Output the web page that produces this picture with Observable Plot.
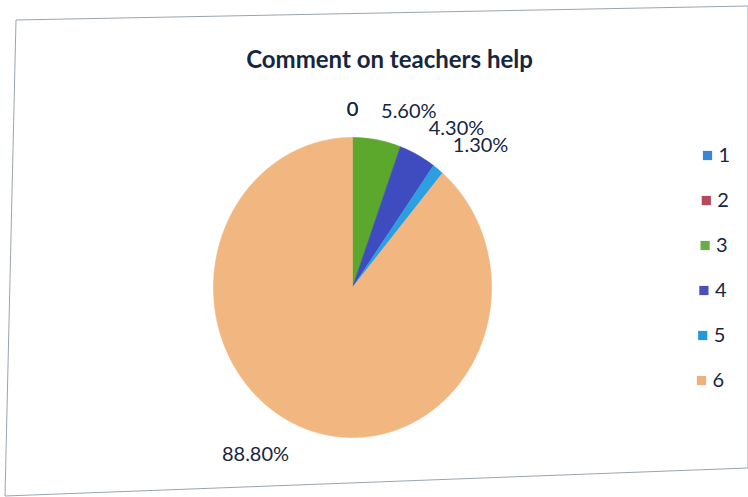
<!DOCTYPE html>
<html><head><meta charset="utf-8">
<script src="https://cdn.jsdelivr.net/npm/d3@7"></script>
<script src="https://cdn.jsdelivr.net/npm/@observablehq/plot@0.6"></script>
<style>
html,body{margin:0;padding:0;background:#fff;}
#wrap{position:relative;width:748px;height:497px;overflow:hidden;background:#fff;}
#frame{position:absolute;left:0;top:0;}
#chart{position:absolute;left:0;top:0;}
</style></head><body>
<div id="wrap">
<svg id="frame" width="748" height="497"><polygon points="16,20 748,6 748,468 5,496" fill="none" stroke="#9aa4ad" stroke-width="1"/></svg>
<div id="chart"></div>
</div>
<script>
// ---- data ----
const categories = ["1", "2", "3", "4", "5", "6"];
const values = [0, 0, 5.6, 4.3, 1.3, 88.8];
const valueLabels = ["0", "0", "5.60%", "4.30%", "1.30%", "88.80%"];
const legendColors = ["#3a86d6", "#b4485f", "#6aac4a", "#4a50b8", "#2399dd", "#efb07a"];
const sliceColors = ["#3a86d6", "#b4485f", "#5ba82d", "#3f4cbf", "#2b9fe2", "#f2b680"];
const title = "Comment on teachers help";

// ---- layout ----
const W = 748, H = 497;
const cx = 352, cy = 287, rx = 139, ry = 150;
const font = "Lato, 'Open Sans', sans-serif";
const ink = "#17263f";

const arcs = d3.pie().sort(null).value(d => d)(values);
const pt = (a, ex, ey) => ({x: cx + ex * Math.sin(a), y: cy - ey * Math.cos(a)});

const sliceMarks = [];
arcs.forEach((s, i) => {
  if (s.endAngle - s.startAngle <= 0) return;
  const n = Math.max(2, Math.ceil((s.endAngle - s.startAngle) / 0.01));
  const pts = [{x: cx, y: cy}];
  for (let k = 0; k <= n; k++) {
    const a = s.startAngle + (s.endAngle - s.startAngle) * k / n;
    pts.push(pt(a, rx, ry));
  }
  pts.push({x: cx, y: cy});
  sliceMarks.push(Plot.line(pts, {x: "x", y: "y", fill: sliceColors[i], stroke: sliceColors[i], strokeWidth: 0.6, curve: "linear"}));
});

const labelData = arcs.map((s, i) => {
  const a = (s.startAngle + s.endAngle) / 2;
  const top = Math.cos(a) >= 0;
  const gx = top ? 24 : 45, gy = top ? 22 : 20;
  const p = pt(a, rx + gx, ry + gy);
  const sn = Math.sin(a);
  return {x: p.x, y: p.y, text: valueLabels[i],
    anchor: sn > 0.1 ? "start" : sn < -0.1 ? "end" : "middle",
    line: top ? "bottom" : "top"};
});

const labelMarks = ["bottom", "top"].flatMap(la =>
  ["start", "middle", "end"].map(ta =>
    Plot.text(labelData.filter(d => d.line === la && d.anchor === ta),
      {x: "x", y: "y", text: "text", textAnchor: ta, lineAnchor: la,
       fontSize: 20, fill: ink, fontFamily: font})));

const legendData = categories.map((c, i) => ({x: 707 - i * 1.2, y: 155 + i * 45, c, color: legendColors[i]}));

const chart = Plot.plot({
  width: W, height: H,
  margin: 0,
  x: {domain: [0, W], range: [0, W], axis: null},
  y: {domain: [0, H], range: [0, H], axis: null},
  style: {background: "transparent", fontFamily: font},
  marks: [
    ...sliceMarks,
    ...labelMarks,
    Plot.text([{x: 389, y: 60, t: title}], {x: "x", y: "y", text: "t", fontSize: 24, fontWeight: "bold", fill: ink, fontFamily: font}),
    Plot.dot(legendData, {x: "x", y: "y", symbol: "square", r: 5.2, fill: "color", stroke: "none"}),
    Plot.text(legendData, {x: "x", y: "y", text: "c", dx: 11, textAnchor: "start", fontSize: 20, fill: ink, fontFamily: font})
  ]
});
document.getElementById("chart").appendChild(chart);
</script>
</body></html>
